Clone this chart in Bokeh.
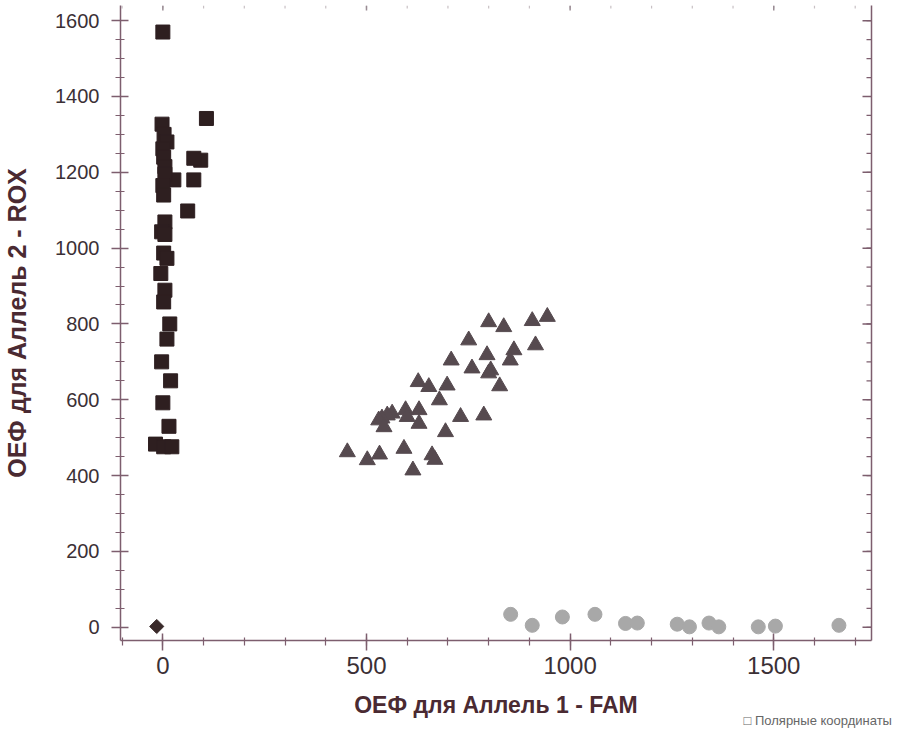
from bokeh.plotting import figure
from bokeh.models import Range1d, LinearAxis, FixedTicker, Title
from bokeh.embed import file_html
from bokeh.resources import INLINE
import numpy as np

# ---- data ----
sq_x = [0, 107, -2, 3, 10, 0, 2, 5, 93, 76, 76, 27, 5, 0, 2, 61, 5, -3, 5, 2,
        10, -5, 5, 2, 17, 10, -3, 19, 0, 15, -18, 2, 22]
sq_y = [1570, 1342, 1327, 1300, 1280, 1262, 1240, 1215, 1232, 1237, 1180, 1180,
        1195, 1165, 1140, 1098, 1069, 1043, 1036, 987, 973, 933, 889, 858, 800,
        760, 700, 650, 592, 530, 483, 476, 476]

tri_x = [800, 837, 907, 944, 751, 862, 915, 853, 796, 708, 759, 805, 800, 827,
         627, 653, 698, 679, 596, 629, 563, 551, 538, 530, 600, 543, 629, 731,
         788, 694, 453, 502, 532, 592, 661, 668, 614]
tri_y = [805, 792, 808, 819, 757, 731, 744, 704, 718, 704, 683, 678, 670, 636,
         647, 634, 638, 599, 573, 573, 564, 559, 551, 546, 555, 528, 537, 555,
         559, 515, 462, 441, 456, 471, 454, 442, 414]

cir_x = [854, 907, 981, 1061, 1136, 1165, 1263, 1293, 1341, 1365, 1462, 1504, 1660]
cir_y = [34, 5, 27, 34, 10, 11, 8, 1, 11, 1, 1, 3, 5]

dia_x = [-15]
dia_y = [2]

x_major = [0, 500, 1000, 1500]
x_minor = list(range(-100, 1800, 100))
y_major = list(range(0, 1601, 200))
y_minor = list(range(0, 1651, 50))

x_title = "ОЕФ для Аллель 1 - FAM"
y_title = "ОЕФ для Аллель 2 - ROX"
check_text = "□ Полярные координаты"

X_MIN, X_MAX = -104, 1740
Y_MIN, Y_MAX = -35, 1640

# ---- styling ----
AXIS_COL = "#7d5e6e"
TICK_LBL = "#3b3035"
TITLE_COL = "#4a2a32"
FONT = "Liberation Sans"

p = figure(frame_width=751, frame_height=635,
           x_range=Range1d(X_MIN, X_MAX), y_range=Range1d(Y_MIN, Y_MAX),
           output_backend="svg", toolbar_location=None,
           min_border_left=117, min_border_right=23,
           min_border_top=5, min_border_bottom=88)
p.outline_line_color = None
p.xgrid.visible = False
p.ygrid.visible = False
p.background_fill_color = "white"
p.border_fill_color = "white"

# bottom axis
xa = p.xaxis[0]
xa.ticker = FixedTicker(ticks=x_major, minor_ticks=x_minor)
xa.axis_line_color = AXIS_COL
xa.axis_line_width = 1.5
xa.major_tick_line_color = AXIS_COL
xa.minor_tick_line_color = AXIS_COL
xa.major_tick_line_width = 1.5
xa.minor_tick_line_width = 1.2
xa.major_tick_in = 7
xa.major_tick_out = 10
xa.minor_tick_in = 3
xa.minor_tick_out = 5
xa.major_label_text_font = FONT
xa.major_label_text_font_size = "24px"
xa.major_label_text_color = TICK_LBL
xa.major_label_standoff = 6
xa.axis_label = x_title
xa.axis_label_text_font = FONT
xa.axis_label_text_font_style = "bold"
xa.axis_label_text_font_size = "23px"
xa.axis_label_text_color = TITLE_COL
xa.axis_label_standoff = 15

# left axis
ya = p.yaxis[0]
ya.ticker = FixedTicker(ticks=y_major, minor_ticks=y_minor)
ya.axis_line_color = AXIS_COL
ya.axis_line_width = 1.5
ya.major_tick_line_color = AXIS_COL
ya.minor_tick_line_color = AXIS_COL
ya.major_tick_line_width = 1.5
ya.minor_tick_line_width = 1.2
ya.major_tick_in = 8
ya.major_tick_out = 9
ya.minor_tick_in = 4
ya.minor_tick_out = 5
ya.major_label_text_font = FONT
ya.major_label_text_font_size = "20px"
ya.major_label_text_color = TICK_LBL
ya.major_label_standoff = 12
ya.axis_label = y_title
ya.axis_label_text_font = FONT
ya.axis_label_text_font_style = "bold"
ya.axis_label_text_font_size = "25px"
ya.axis_label_text_color = TITLE_COL
ya.axis_label_standoff = 21

# right axis: line only, inward ticks drawn as short rays
ra = LinearAxis(ticker=FixedTicker(ticks=[], minor_ticks=[]))
ra.axis_line_color = AXIS_COL
ra.axis_line_width = 1.5
ra.major_label_standoff = 0
p.add_layout(ra, "right")

p.ray(x=[X_MAX] * len(y_major), y=y_major, length=9, length_units="screen",
      angle=np.pi, line_color=AXIS_COL, line_width=1.5)
p.ray(x=[X_MAX] * len(y_minor), y=y_minor, length=5, length_units="screen",
      angle=np.pi, line_color=AXIS_COL, line_width=1.2)
# faint top ticks
p.ray(x=x_minor, y=[Y_MAX] * len(x_minor), length=3, length_units="screen",
      angle=-np.pi / 2, line_color="#c8c0c4", line_width=1.2)
p.ray(x=x_major, y=[Y_MAX] * len(x_major), length=5, length_units="screen",
      angle=-np.pi / 2, line_color="#9a8c94", line_width=1.5)

# ---- marks ----
p.scatter(cir_x, cir_y, marker="circle", size=14, fill_color="#a8a8a8",
          line_color="#a8a8a8")
p.scatter(tri_x, tri_y, marker="triangle", size=16, fill_color="#564a4f",
          line_color="#564a4f")
p.scatter(sq_x, sq_y, marker="square", size=14, fill_color="#2e1f20",
          line_color="#2e1f20")
p.scatter(dia_x, dia_y, marker="square", angle=np.pi / 4, size=10,
          fill_color="#3a2a2a", line_color="#3a2a2a")

# polar coordinates checkbox text
p.add_layout(Title(text=check_text, align="left", offset=623,
                   text_font=FONT, text_font_size="13px",
                   text_font_style="normal", text_color="#666666",
                   standoff=-16, vertical_align="top"), "below")

open("out.html", "w").write(file_html(p, INLINE))
